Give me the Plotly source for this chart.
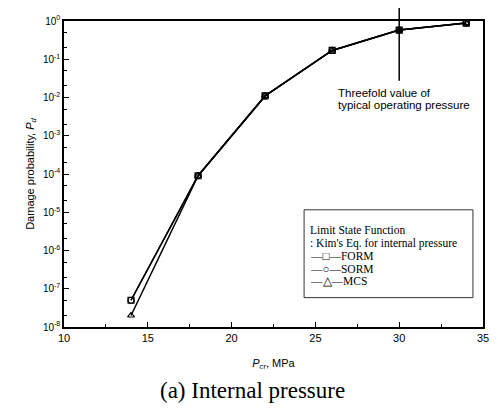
import plotly.graph_objects as go

pressure = [14, 18, 22, 26, 30, 34]
form = [5e-8, 9e-5, 1.1e-2, 0.17, 0.58, 0.88]
sorm = [5e-8, 9e-5, 1.1e-2, 0.17, 0.58, 0.88]
mcs = [2e-8, 9e-5, 1.1e-2, 0.17, 0.58, 0.88]
ytick_vals = [1e-8, 1e-7, 1e-6, 1e-5, 1e-4, 1e-3, 1e-2, 1e-1, 1]
ytick_text = ["10<sup>-8</sup>", "10<sup>-7</sup>", "10<sup>-6</sup>", "10<sup>-5</sup>",
              "10<sup>-4</sup>", "10<sup>-3</sup>", "10<sup>-2</sup>", "10<sup>-1</sup>", "10<sup>0</sup>"]
marker_line = 30  # threefold value of typical operating pressure
legend_lines = ["Limit State Function", ": Kim's Eq. for internal pressure",
                "\u2014\u25a1\u2014FORM", "\u2014\u25cb\u2014SORM", "\u2014\u25b3\u2014MCS"]

SERIF = "Liberation Serif, Times New Roman"

fig = go.Figure()
series = [("FORM", form, "square-open"), ("SORM", sorm, "circle-open"), ("MCS", mcs, "triangle-up-open")]
for name, vals, sym in series:
    fig.add_trace(go.Scatter(
        x=pressure, y=vals, name=name, mode="lines+markers", showlegend=False,
        line=dict(color="black", width=1.5),
        marker=dict(symbol=sym, size=6, color="black", line=dict(width=1.2, color="black")),
    ))

# page body has an 8px margin, so the figure is shrunk by 8px on each axis
fig.update_layout(
    width=490, height=405,
    margin=dict(l=56, r=15, t=6, b=86),
    paper_bgcolor="white", plot_bgcolor="white",
    font=dict(family="Arial, Liberation Sans", color="black", size=11),
)
fig.update_xaxes(
    range=[10, 35], dtick=5, tick0=10,
    showline=True, linecolor="black", linewidth=1.5, mirror=True,
    ticks="inside", ticklen=5, tickcolor="black",
    minor=dict(dtick=2.5, ticks="inside", ticklen=3, tickcolor="black"),
    showgrid=False, zeroline=False,
    tickfont=dict(size=11),
    title=dict(text="<i>P</i><sub><i>cr</i></sub>, MPa", font=dict(size=11), standoff=16),
)
fig.update_yaxes(
    type="log", range=[-8, 0],
    tickvals=ytick_vals, ticktext=ytick_text,
    showline=True, linecolor="black", linewidth=1.5, mirror=True,
    ticks="inside", ticklen=5, tickcolor="black",
    minor=dict(ticks="inside", ticklen=3, tickcolor="black"),
    showgrid=False, zeroline=False,
    tickfont=dict(size=10),
    title=dict(text="Damage probability, <i>P</i><sub><i>d</i></sub>", font=dict(size=11), standoff=6),
)
fig.add_shape(type="line", xref="x", yref="paper", x0=marker_line, x1=marker_line,
              y0=0.805, y1=1.045, line=dict(color="black", width=1.5))
for txt, yy in [("Threefold value of", 0.764), ("typical operating pressure", 0.725)]:
    fig.add_annotation(xref="x", yref="paper", x=26.2, y=yy, xanchor="left", yanchor="middle",
                       align="left", showarrow=False, text=txt, font=dict(size=11.5))

# legend box
fig.add_shape(type="rect", xref="paper", yref="paper", x0=0.573, x1=0.976, y0=0.096, y1=0.383,
              line=dict(color="#333", width=1), fillcolor="white", layer="above")
for txt, yy in zip(legend_lines, [0.316, 0.272, 0.232, 0.191, 0.150]):
    fig.add_annotation(xref="paper", yref="paper", x=0.583, y=yy, xanchor="left", yanchor="middle",
                       align="left", showarrow=False, text=txt, font=dict(family=SERIF, size=11.5))

fig.add_annotation(xref="paper", yref="paper", x=0.449, y=-0.208, xanchor="center", yanchor="middle",
                   showarrow=False, text="(a) Internal pressure",
                   font=dict(family=SERIF, size=23))
fig.write_html("out.html")
